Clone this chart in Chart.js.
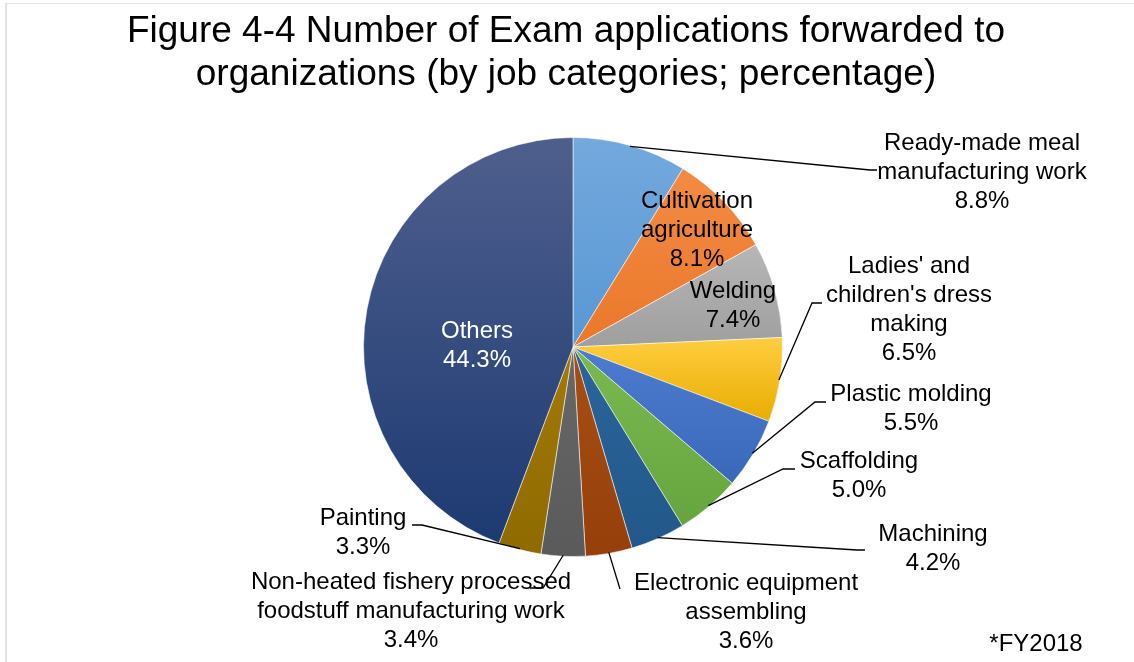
<!DOCTYPE html>
<html>
<head>
<meta charset="utf-8">
<script src="https://cdn.jsdelivr.net/npm/chart.js@4/dist/chart.umd.min.js"></script>
<style>
  html, body { margin: 0; padding: 0; background: #ffffff; }
  #wrap { position: relative; width: 1134px; height: 662px; }
  canvas { display: block; }
</style>
</head>
<body>
<div id="wrap"><canvas id="c" width="1134" height="662"></canvas></div>
<script>
// ---------------- DATA ----------------
const titleLines = ["Figure 4-4 Number of Exam applications forwarded to", "organizations (by job categories; percentage)"];
const categories = [
  "Ready-made meal manufacturing work",
  "Cultivation agriculture",
  "Welding",
  "Ladies' and children's dress making",
  "Plastic molding",
  "Scaffolding",
  "Machining",
  "Electronic equipment assembling",
  "Non-heated fishery processed foodstuff manufacturing work",
  "Painting",
  "Others"
];
const shares = [8.8, 8.1, 7.4, 6.5, 5.5, 5.0, 4.2, 3.6, 3.4, 3.3, 44.3];
const labelLines = [
  ["Ready-made meal", "manufacturing work"],
  ["Cultivation", "agriculture"],
  ["Welding"],
  ["Ladies' and", "children's dress", "making"],
  ["Plastic molding"],
  ["Scaffolding"],
  ["Machining"],
  ["Electronic equipment", "assembling"],
  ["Non-heated fishery processed", "foodstuff manufacturing work"],
  ["Painting"],
  ["Others"]
];
const footnote = "*FY2018";

// ---------------- STYLE ----------------
const topColors    = ["#74a9dd", "#f38b44", "#b6b6b6", "#ffcd40", "#4d7dd0", "#7bba50", "#2b659c", "#a64f14", "#686868", "#a27a08", "#4f5f8d"];
const bottomColors = ["#5898d4", "#ea782a", "#9f9f9f", "#e8ad00", "#3a67ba", "#66a43f", "#225889", "#963f0a", "#5a5a5a", "#8f6a00", "#1d3a72"];
const labelColors  = ["#000", "#000", "#000", "#000", "#000", "#000", "#000", "#000", "#000", "#000", "#fff"];
// label layout: [centerX, firstLineCenterY]; leader: extra points after the arc edge point (null = inside label)
const labelPos = [[982, 143], [697, 201], [733, 291], [909, 266], [911, 394], [859, 461], [933, 534], [746, 583], [411, 582], [363, 518], [477, 331]];
const leaders = [
  [[870, 170], [877, 170]],
  null,
  null,
  [[812, 303], [822, 303]],
  [[815, 402], [826, 402]],
  [[783, 469], [795, 469]],
  [[857, 550], [865, 550]],
  [[620, 589]],
  [[543, 588], [530, 588]],
  [[422, 525], [412, 525]],
  null
];
const FONT = '"Liberation Sans", Arial, sans-serif';
const LABEL_SIZE = 24;
const LINE_H = 29;

function sliceYRange(chart, i) {
  const ca = chart.chartArea;
  const cx = (ca.left + ca.right) / 2, cy = (ca.top + ca.bottom) / 2;
  const r = Math.min(ca.right - ca.left, ca.bottom - ca.top) / 2;
  const total = shares.reduce((a, b) => a + b, 0);
  let before = 0;
  for (let k = 0; k < i; k++) before += shares[k];
  const a0 = before / total * 2 * Math.PI, a1 = (before + shares[i]) / total * 2 * Math.PI;
  let ymin = cy, ymax = cy;
  const steps = 60;
  for (let s = 0; s <= steps; s++) {
    const a = a0 + (a1 - a0) * s / steps;
    const y = cy - r * Math.cos(a);
    ymin = Math.min(ymin, y); ymax = Math.max(ymax, y);
  }
  return [ymin, ymax];
}

const decorPlugin = {
  id: 'decor',
  beforeDraw(chart) {
    const ctx = chart.ctx;
    ctx.save();
    ctx.fillStyle = '#ffffff';
    ctx.fillRect(0, 0, chart.width, chart.height);
    ctx.fillStyle = '#dfe3ec';
    ctx.fillRect(5, 3, 2, chart.height);
    ctx.fillRect(5, 3, chart.width, 1);
    ctx.restore();
  },
  afterDraw(chart) {
    const ctx = chart.ctx;
    const meta = chart.getDatasetMeta(0);
    ctx.save();
    // title
    ctx.fillStyle = '#000';
    ctx.textAlign = 'center';
    ctx.textBaseline = 'middle';
    ctx.font = '37px ' + FONT;
    titleLines.forEach((t, k) => ctx.fillText(t, 566, 32 + k * 43));
    // leaders
    ctx.strokeStyle = '#000';
    ctx.lineWidth = 1.3;
    meta.data.forEach((arc, i) => {
      if (!leaders[i]) return;
      const mid = (arc.startAngle + arc.endAngle) / 2;
      const R = arc.outerRadius - 1;
      ctx.beginPath();
      ctx.moveTo(arc.x + Math.cos(mid) * R, arc.y + Math.sin(mid) * R);
      leaders[i].forEach(p => ctx.lineTo(p[0], p[1]));
      ctx.stroke();
    });
    // labels
    ctx.font = LABEL_SIZE + 'px ' + FONT;
    chart.data.datasets[0].data.forEach((v, i) => {
      const lines = labelLines[i].concat([v.toFixed(1) + '%']);
      ctx.fillStyle = labelColors[i];
      lines.forEach((t, k) => ctx.fillText(t, labelPos[i][0], labelPos[i][1] + k * LINE_H));
    });
    // footnote
    ctx.fillStyle = '#000';
    ctx.fillText(footnote, 1036, 644);
    ctx.restore();
  }
};

new Chart(document.getElementById('c'), {
  type: 'pie',
  data: {
    labels: categories,
    datasets: [{
      data: shares,
      backgroundColor(context) {
        const chart = context.chart;
        const i = context.dataIndex;
        if (!chart.chartArea) return bottomColors[i];
        const [y0, y1] = sliceYRange(chart, i);
        const g = chart.ctx.createLinearGradient(0, y0, 0, y1 + 0.01);
        g.addColorStop(0, topColors[i]);
        g.addColorStop(1, bottomColors[i]);
        return g;
      },
      borderColor: 'rgba(255,255,255,0.55)',
      borderWidth: 1
    }]
  },
  options: {
    responsive: false,
    animation: false,
    devicePixelRatio: 1,
    rotation: 0,
    layout: { padding: { left: 363, right: 351, top: 137, bottom: 105 } },
    plugins: {
      legend: { display: false },
      title: { display: false },
      tooltip: { enabled: false }
    }
  },
  plugins: [decorPlugin]
});
</script>
</body>
</html>
